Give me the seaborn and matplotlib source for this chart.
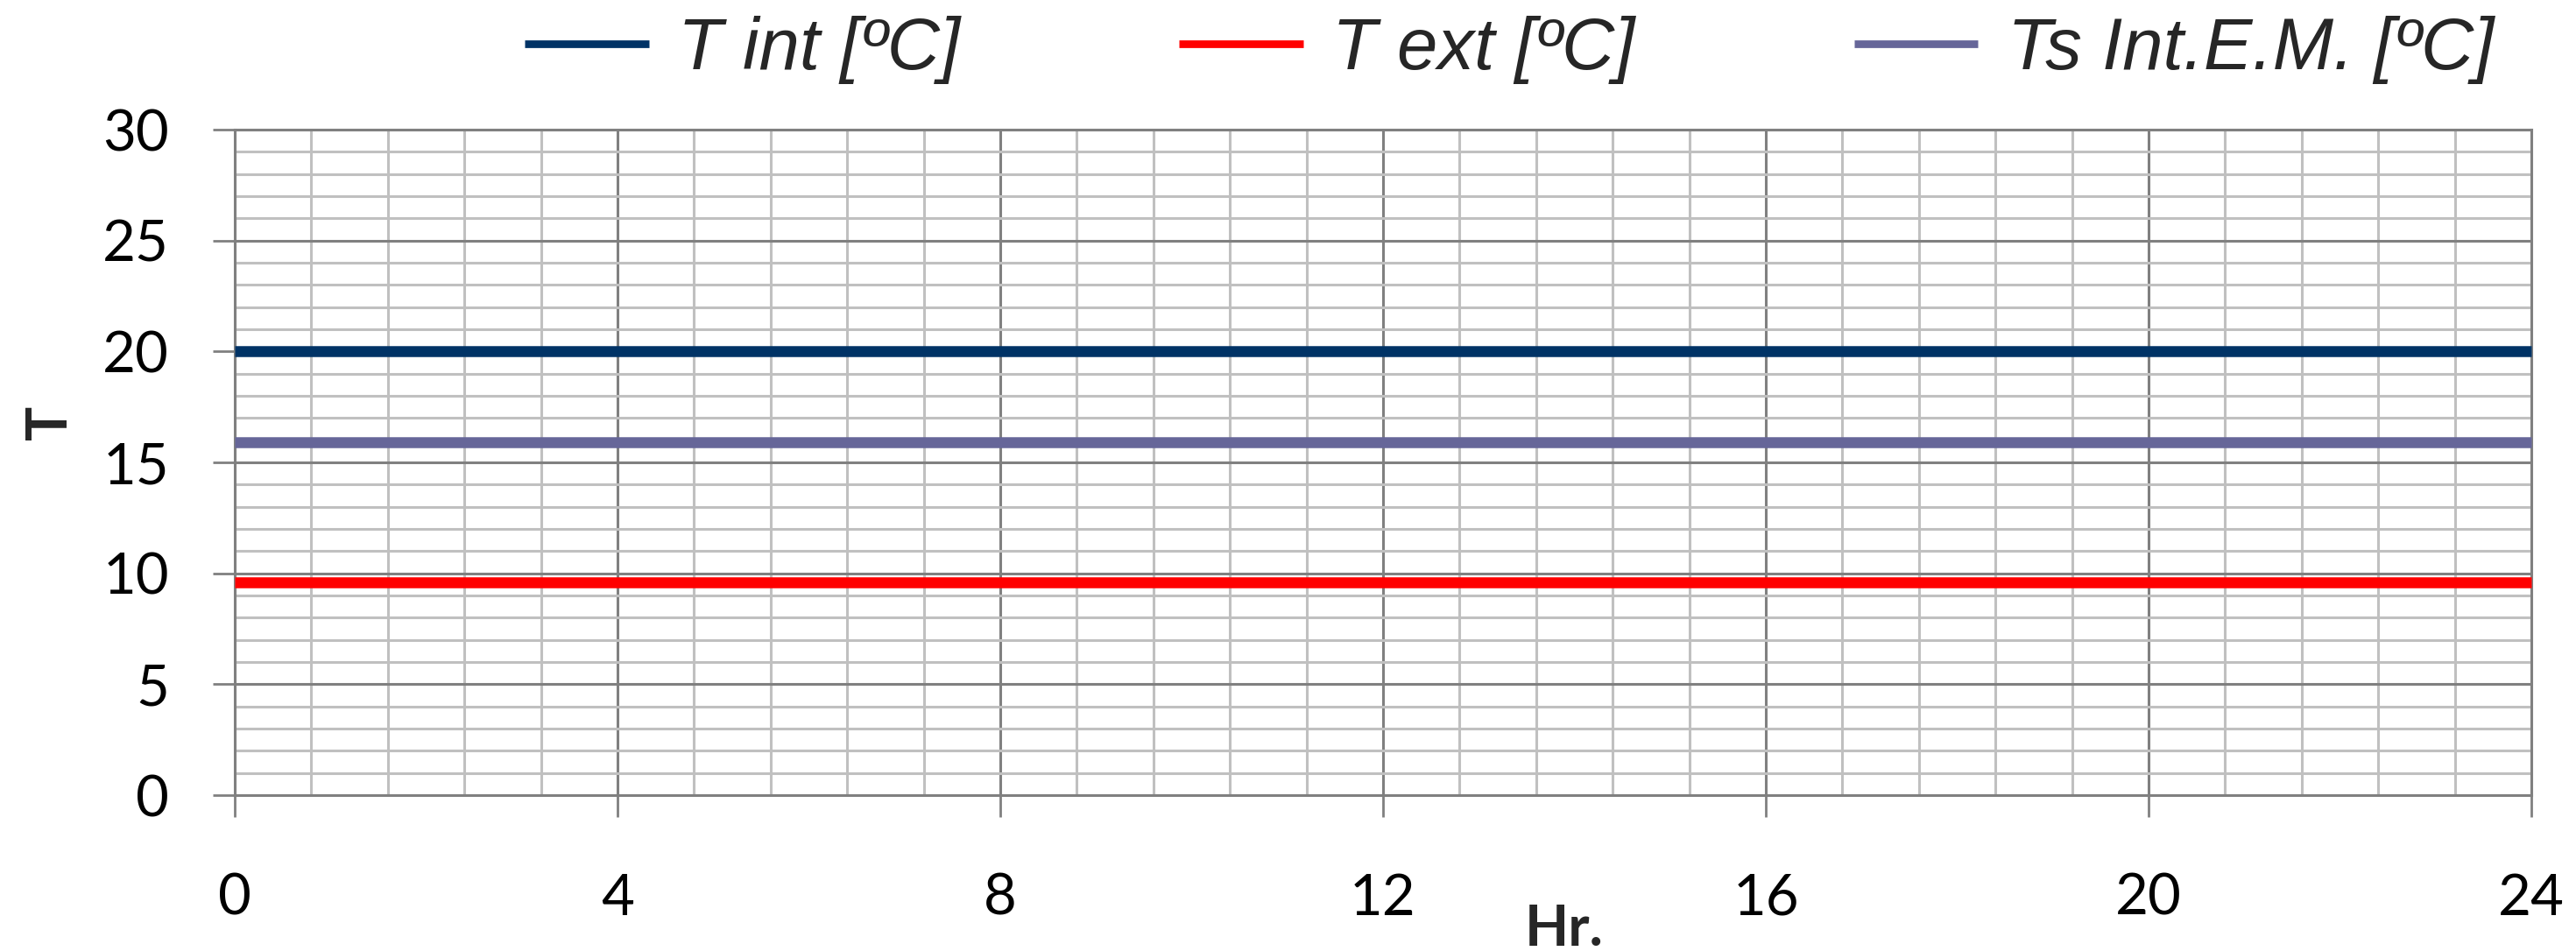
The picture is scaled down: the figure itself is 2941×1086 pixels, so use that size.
import pandas as pd
import matplotlib
matplotlib.use("Agg")
import matplotlib.pyplot as plt
from matplotlib.ticker import MultipleLocator
import seaborn as sns

# Hourly values (flat lines)
hours = [0, 1, 2, 3, 4, 5, 6, 7, 8, 9, 10, 11, 12,
         13, 14, 15, 16, 17, 18, 19, 20, 21, 22, 23, 24]
t_int = [20.0, 20.0, 20.0, 20.0, 20.0, 20.0, 20.0, 20.0, 20.0, 20.0, 20.0, 20.0, 20.0,
         20.0, 20.0, 20.0, 20.0, 20.0, 20.0, 20.0, 20.0, 20.0, 20.0, 20.0, 20.0]
t_ext = [9.6, 9.6, 9.6, 9.6, 9.6, 9.6, 9.6, 9.6, 9.6, 9.6, 9.6, 9.6, 9.6,
         9.6, 9.6, 9.6, 9.6, 9.6, 9.6, 9.6, 9.6, 9.6, 9.6, 9.6, 9.6]
ts_em = [15.9, 15.9, 15.9, 15.9, 15.9, 15.9, 15.9, 15.9, 15.9, 15.9, 15.9, 15.9, 15.9,
         15.9, 15.9, 15.9, 15.9, 15.9, 15.9, 15.9, 15.9, 15.9, 15.9, 15.9, 15.9]
series_names = ["T int [ºC]", "T ext [ºC]", "Ts Int.E.M. [ºC]"]
colors = ["#003366", "#FF0000", "#666699"]
x_ticks = [0, 4, 8, 12, 16, 20, 24]
y_ticks = [0, 5, 10, 15, 20, 25, 30]

sns.set_style("white")
plt.rcParams['font.family'] = ['Lato', 'DejaVu Sans']

df = pd.DataFrame({
    "Hr": hours * 3,
    "T": t_int + t_ext + ts_em,
    "serie": [series_names[0]] * len(hours) + [series_names[1]] * len(hours)
             + [series_names[2]] * len(hours),
})

fig = plt.figure(figsize=(29.41, 10.86), dpi=100)
ax = fig.add_axes([0.0911, 0.1639, 0.8916, 0.6998])

sns.lineplot(data=df, x="Hr", y="T", hue="serie", palette=colors,
             linewidth=9, ax=ax, zorder=3)
for ln in ax.get_lines():
    ln.set_clip_on(False)
    ln.set_solid_capstyle("butt")

ax.set_xlim(0, 24)
ax.set_ylim(0, 30)
ax.set_xticks(x_ticks)
ax.set_yticks(y_ticks)
ax.xaxis.set_minor_locator(MultipleLocator(0.8))
ax.yaxis.set_minor_locator(MultipleLocator(1))

ax.set_axisbelow(True)
ax.grid(which="minor", color="#C0C0C0", linewidth=2.2, zorder=0)
ax.grid(which="major", color="#808080", linewidth=2.2, zorder=1)

for sp in ax.spines.values():
    sp.set_color("#808080")
    sp.set_linewidth(2.2)

ax.tick_params(which="major", direction="out", length=18, width=2,
               color="#808080", labelsize=47, labelcolor="black",
               bottom=True, left=True)
ax.tick_params(which="minor", length=0)
ax.tick_params(axis="y", pad=36)
ax.tick_params(axis="x", pad=46)

ax.set_xlabel("Hr.", fontsize=47, fontweight="bold")
ax.set_ylabel("T", fontsize=47, fontweight="bold")
ax.xaxis.set_label_coords(0.579, -0.163)
ax.yaxis.set_label_coords(-0.069, 0.56)

sns.move_legend(ax, "center", bbox_to_anchor=(0.555, 1.12), ncol=3,
                frameon=False, title=None, handlelength=1.7,
                handletextpad=0.4, columnspacing=3.0,
                prop={"family": "Liberation Sans", "style": "italic", "size": 60})
for h in ax.get_legend().get_lines():
    h.set_linewidth(6.3)
    h.set_solid_capstyle("butt")

fig.savefig("out.png", dpi=100)
